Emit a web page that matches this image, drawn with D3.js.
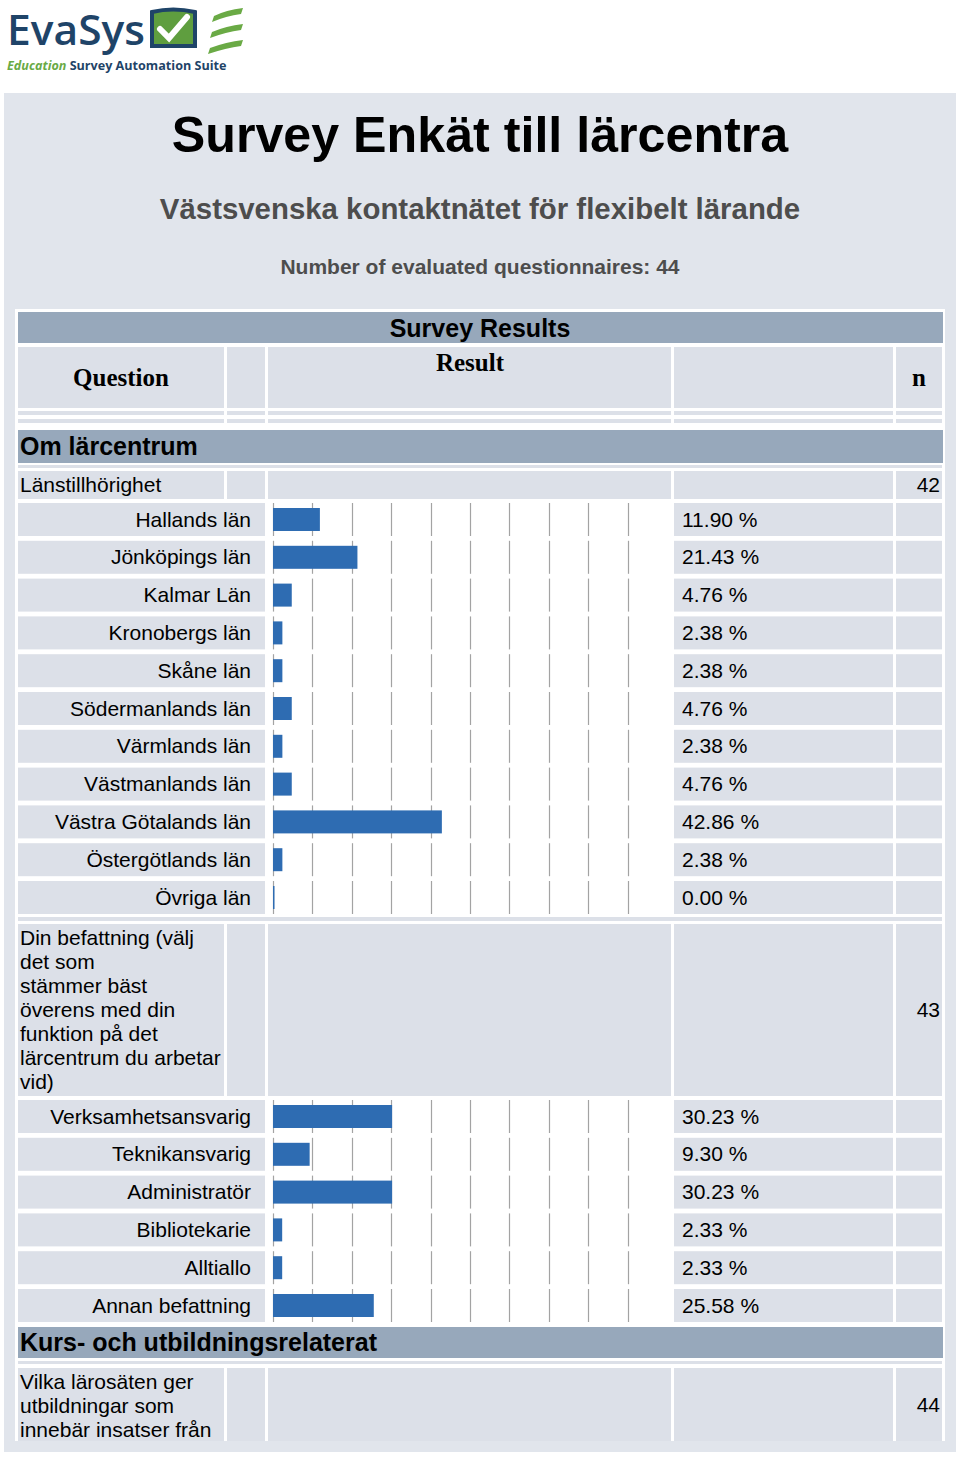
<!DOCTYPE html>
<html>
<head>
<meta charset="utf-8">
<script src="https://cdn.jsdelivr.net/npm/d3@7"></script>
<style>
  html, body { margin: 0; padding: 0; background: #ffffff; }
  svg { display: block; }
</style>
</head>
<body>
<script>
// ---------------- DATA ----------------
const title = "Survey Enkät till lärcentra";
const subtitle = "Västsvenska kontaktnätet för flexibelt lärande";
const countLine = "Number of evaluated questionnaires: 44";

const section1 = "Om lärcentrum";
const q1Text = ["Länstillhörighet"];
const q1N = 42;
const q1Categories = ["Hallands län", "Jönköpings län", "Kalmar Län", "Kronobergs län", "Skåne län",
  "Södermanlands län", "Värmlands län", "Västmanlands län", "Västra Götalands län",
  "Östergötlands län", "Övriga län"];
const q1Values = [11.90, 21.43, 4.76, 2.38, 2.38, 4.76, 2.38, 4.76, 42.86, 2.38, 0.00];

const q2Text = ["Din befattning (välj", "det som", "stämmer bäst", "överens med din",
  "funktion på det", "lärcentrum du arbetar", "vid)"];
const q2N = 43;
const q2Categories = ["Verksamhetsansvarig", "Teknikansvarig", "Administratör", "Bibliotekarie",
  "Alltiallo", "Annan befattning"];
const q2Values = [30.23, 9.30, 30.23, 2.33, 2.33, 25.58];

const section2 = "Kurs- och utbildningsrelaterat";
const q3Text = ["Vilka lärosäten ger", "utbildningar som", "innebär insatser från"];
const q3N = 44;

const gridTicks = [0, 10, 20, 30, 40, 50, 60, 70, 80, 90];

// ---------------- STYLE ----------------
const SANS = "'Liberation Sans', Arial, Helvetica, sans-serif";
const SERIF = "'Liberation Serif', 'Times New Roman', serif";
const C = {
  panel: "#e1e5ec",
  cell: "#dce0e8",
  band: "#97a8bb",
  bar: "#2e6cb2",
  grid: "#a3a3a3",
  navy: "#1f4468",
  green: "#5f9e3f",
  sub: "#4d4d4d"
};
const FS = 21;

const svg = d3.select("body").append("svg").attr("width", 960).attr("height", 1460);

// ---------------- LOGO ----------------
const logo = svg.append("g");
logo.append("text").attr("x", 7).attr("y", 45).text("EvaSys")
  .attr("font-family", "'Open Sans', sans-serif").attr("font-weight", 600)
  .attr("font-size", 41).attr("fill", C.navy)
  .attr("textLength", 138).attr("lengthAdjust", "spacingAndGlyphs");
logo.append("path").attr("d", "M152,12 Q173,7 195,12 L195,46 L152,46 Z")
  .attr("fill", C.green).attr("stroke", C.navy).attr("stroke-width", 4);
logo.append("path").attr("d", "M160,29 L169,38 L187,17")
  .attr("fill", "none").attr("stroke", "#ffffff").attr("stroke-width", 6).attr("stroke-linecap", "round");
[[8, 2], [24, 0], [40, -2]].forEach(([y, s]) => {
  logo.append("path")
    .attr("d", `M${212 + s},${y + 8} Q${226},${y + 2} ${243},${y} L${241},${y + 6} Q${226},${y + 8} ${210 + s},${y + 14} Z`)
    .attr("fill", "#6aaa45");
});
const tag = logo.append("text").attr("x", 7).attr("y", 70)
  .attr("font-family", "'Open Sans', sans-serif").attr("font-size", 12.6).attr("font-weight", 700);
tag.append("tspan").text("Education ").attr("fill", "#6aaa45").attr("font-style", "italic");
tag.append("tspan").text("Survey Automation Suite").attr("fill", C.navy);

// ---------------- PANEL ----------------
svg.append("rect").attr("x", 4).attr("y", 93).attr("width", 952).attr("height", 1359).attr("fill", C.panel);

svg.append("text").attr("x", 480).attr("y", 152).attr("text-anchor", "middle").text(title)
  .attr("font-family", SANS).attr("font-weight", 700).attr("font-size", 50.2).attr("fill", "#000");
svg.append("text").attr("x", 480).attr("y", 219).attr("text-anchor", "middle").text(subtitle)
  .attr("font-family", SANS).attr("font-weight", 700).attr("font-size", 29.4).attr("fill", C.sub);
svg.append("text").attr("x", 480).attr("y", 274).attr("text-anchor", "middle").text(countLine)
  .attr("font-family", SANS).attr("font-weight", 700).attr("font-size", 21).attr("fill", C.sub);

// ---------------- TABLE ----------------
const T = { left: 18, right: 942 };
svg.append("rect").attr("x", 15).attr("y", 309).attr("width", 930).attr("height", 1132).attr("fill", "#ffffff");

const cols5 = [[18, 224], [227, 265], [268, 671], [674, 893], [896, 942]];
const g = svg.append("g");

function cells(cols, y, h) {
  cols.forEach(([a, b]) => g.append("rect").attr("x", a).attr("y", y).attr("width", b - a).attr("height", h).attr("fill", C.cell));
}
function fullStrip(y, h) {
  g.append("rect").attr("x", T.left).attr("y", y).attr("width", T.right - T.left).attr("height", h).attr("fill", C.cell);
}
function band(y, h, label, opts) {
  g.append("rect").attr("x", T.left).attr("y", y).attr("width", T.right - T.left + 1).attr("height", h).attr("fill", C.band);
  g.append("text").text(label).attr("x", opts.x).attr("y", opts.baseline)
    .attr("text-anchor", opts.anchor).attr("font-family", SANS).attr("font-weight", 700)
    .attr("font-size", 25).attr("fill", "#000");
}
function txt(s, x, y, anchor, extra) {
  const t = g.append("text").text(s).attr("x", x).attr("y", y).attr("text-anchor", anchor)
    .attr("font-family", SANS).attr("font-size", FS).attr("fill", "#000");
  if (extra) extra(t);
  return t;
}

// header
band(312, 31, "Survey Results", { x: 480, baseline: 337, anchor: "middle" });
cells(cols5, 347, 61);
const serifBold = t => t.attr("font-family", SERIF).attr("font-weight", 700).attr("font-size", 25);
txt("Question", 121, 386, "middle", serifBold);
txt("Result", 470, 371, "middle", serifBold);
txt("n", 919, 386, "middle", serifBold);
cells(cols5, 411, 4);
cells(cols5, 419, 4);

// section 1
band(430, 33, section1, { x: 20, baseline: 455, anchor: "start" });
fullStrip(465, 3);

const x = d3.scaleLinear().domain([0, 100]).range([273, 667]);

function question(lines, n, top, h) {
  cells(cols5, top, h);
  lines.forEach((l, i) => txt(l, 20, top + 21 + i * 24, "start"));
  txt(String(n), 940, top + h / 2 + 7, "end");
}

function items(cats, vals, top0, pitch, rh) {
  const y = d3.scaleBand().domain(cats).range([top0, top0 + pitch * cats.length]).paddingInner(0);
  const rows = g.selectAll(null).data(cats.map((c, i) => ({ c, v: vals[i] }))).enter().append("g")
    .attr("transform", d => `translate(0,${y(d.c)})`);
  rows.append("rect").attr("x", 18).attr("width", 247).attr("height", rh).attr("fill", C.cell);
  rows.append("rect").attr("x", 268).attr("width", 403).attr("height", rh).attr("fill", "#ffffff");
  rows.append("rect").attr("x", 674).attr("width", 219).attr("height", rh).attr("fill", C.cell);
  rows.append("rect").attr("x", 896).attr("width", 46).attr("height", rh).attr("fill", C.cell);
  rows.each(function () {
    d3.select(this).selectAll("line").data(gridTicks).enter().append("line")
      .attr("x1", t => Math.round(x(t)) + 0.5).attr("x2", t => Math.round(x(t)) + 0.5)
      .attr("y1", 0).attr("y2", rh).attr("stroke", C.grid).attr("stroke-width", 1.2);
  });
  rows.append("rect").attr("x", x(0)).attr("y", 5).attr("height", rh - 10)
    .attr("width", d => Math.max(x(d.v) - x(0), 1.5)).attr("fill", C.bar);
  rows.append("text").text(d => d.c).attr("x", 251).attr("y", rh / 2 + 7).attr("text-anchor", "end")
    .attr("font-family", SANS).attr("font-size", FS).attr("fill", "#000");
  rows.append("text").text(d => d.v.toFixed(2) + " %").attr("x", 682).attr("y", rh / 2 + 7)
    .attr("font-family", SANS).attr("font-size", FS).attr("fill", "#000");
}

question(q1Text, q1N, 471, 28);
items(q1Categories, q1Values, 503, 37.8, 33);

fullStrip(917, 4);
question(q2Text, q2N, 924, 172);
items(q2Categories, q2Values, 1100, 37.8, 33);

band(1327, 31, section2, { x: 20, baseline: 1351, anchor: "start" });
fullStrip(1361, 3);
question(q3Text, q3N, 1368, 73);
</script>
</body>
</html>
